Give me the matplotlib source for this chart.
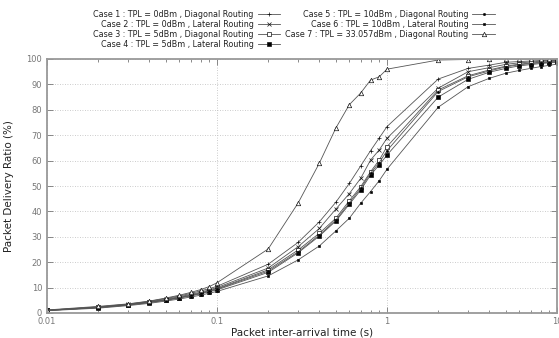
import matplotlib
matplotlib.use("Agg")
import matplotlib.pyplot as plt
from matplotlib.ticker import FixedLocator, NullFormatter, FixedFormatter

x = [0.01, 0.02, 0.03, 0.04, 0.05, 0.06, 0.07, 0.08, 0.09, 0.1,
     0.2, 0.3, 0.4, 0.5, 0.6, 0.7, 0.8, 0.9, 1,
     2, 3, 4, 5, 6, 7, 8, 9, 10]

case1 = [1.1, 2.4, 3.5, 4.6, 5.7, 6.7, 7.7, 8.7, 9.6, 10.5,
         19.2, 27.8, 35.9, 43.6, 51.0, 57.9, 63.9, 68.9, 73.4,
         92.1, 96.3, 97.6, 98.7, 99.0, 99.2, 99.4, 99.5, 99.6]
case2 = [1.1, 2.3, 3.4, 4.4, 5.4, 6.4, 7.3, 8.2, 9.1, 10.0,
         17.7, 26.1, 33.3, 40.9, 47.0, 53.0, 60.2, 64.2, 68.8,
         88.5, 95.0, 96.6, 97.9, 98.5, 98.8, 99.1, 99.3, 99.4]
case3 = [1.0, 2.2, 3.3, 4.3, 5.2, 6.1, 7.0, 7.9, 8.8, 9.6,
         17.0, 24.8, 31.4, 37.3, 44.2, 49.7, 55.6, 60.2, 65.5,
         87.8, 93.4, 95.7, 97.2, 98.0, 98.4, 98.7, 99.0, 99.2]
case4 = [1.0, 2.1, 3.1, 4.1, 5.0, 5.9, 6.7, 7.5, 8.4, 9.1,
         16.0, 23.7, 30.3, 36.2, 42.8, 48.4, 54.3, 58.3, 62.2,
         85.0, 92.0, 94.8, 96.3, 97.3, 97.8, 98.2, 98.5, 98.7]
case5 = [1.0, 2.2, 3.2, 4.2, 5.1, 6.0, 6.9, 7.7, 8.6, 9.4,
         16.5, 24.1, 30.7, 36.6, 43.4, 49.1, 55.0, 59.2, 63.9,
         87.2, 93.0, 95.3, 96.9, 97.7, 98.2, 98.5, 98.7, 99.0]
case6 = [0.9, 1.9, 2.9, 3.8, 4.7, 5.5, 6.3, 7.0, 7.8, 8.5,
         14.6, 20.9, 26.4, 32.3, 37.3, 43.2, 47.8, 52.1, 56.6,
         81.0, 89.1, 92.4, 94.4, 95.5, 96.3, 97.0, 97.5, 98.0]
case7 = [1.2, 2.6, 3.6, 4.7, 5.9, 7.0, 8.1, 9.2, 10.4, 11.9,
         25.2, 43.3, 59.0, 72.8, 82.0, 86.6, 91.7, 93.0, 96.0,
         99.6, 99.8, 99.9, 100, 100, 100, 100, 100, 100]

labels = [
    "Case 1 : TPL = 0dBm , Diagonal Routing",
    "Case 2 : TPL = 0dBm , Lateral Routing",
    "Case 3 : TPL = 5dBm , Diagonal Routing",
    "Case 4 : TPL = 5dBm , Lateral Routing",
    "Case 5 : TPL = 10dBm , Diagonal Routing",
    "Case 6 : TPL = 10dBm , Lateral Routing",
    "Case 7 : TPL = 33.057dBm , Diagonal Routing",
]
series = [case1, case2, case3, case4, case5, case6, case7]
styles = [
    dict(marker="+", ms=2.8, mfc="black"),
    dict(marker="x", ms=2.2, mfc="black"),
    dict(marker="s", ms=2.8, mfc="white"),
    dict(marker="s", ms=2.8, mfc="black"),
    dict(marker="o", ms=1.6, mfc="black"),
    dict(marker="s", ms=1.8, mfc="black"),
    dict(marker="^", ms=3.2, mfc="white"),
]

x_ticks = [0.01, 0.1, 1, 10]
x_ticklabels = ["0.01", "0.1", "1", "10"]
y_ticks = list(range(0, 101, 10))

fig = plt.figure(figsize=(5.59, 3.38), dpi=100)
ax = fig.add_axes([47 / 559, 1 - 313 / 338, 510 / 559, 254 / 338])

for ys, lab, st in zip(series, labels, styles):
    ax.plot(x, ys, color="#555555", lw=0.6, mec="#111111", mew=0.5,
            label=lab, **st)

ax.set_xscale("log")
ax.set_xlim(0.01, 10)
ax.set_ylim(0, 100)
ax.xaxis.set_major_locator(FixedLocator(x_ticks))
ax.xaxis.set_major_formatter(FixedFormatter(x_ticklabels))
minors = [m * d for d in (0.01, 0.1, 1) for m in range(2, 10)]
ax.xaxis.set_minor_locator(FixedLocator(minors))
ax.xaxis.set_minor_formatter(NullFormatter())
ax.set_yticks(y_ticks)

ax.grid(True, which="major", color="#bbbbbb", linestyle=(0, (1, 2)), lw=0.6)
for s in ax.spines.values():
    s.set_color("#999999")
    s.set_linewidth(1.3)
ax.tick_params(which="both", direction="in", top=True, right=True,
               colors="#777777", labelcolor="#777777", labelsize=6)
ax.tick_params(axis="x", pad=3)
ax.tick_params(which="major", length=4, width=0.6)
ax.tick_params(which="minor", length=2.5, width=0.6)

ax.set_xlabel("Packet inter-arrival time (s)", fontsize=7.5, color="#222222",
              labelpad=1)
ax.set_ylabel("Packet Delivery Ratio (%)", fontsize=7.5, color="#222222",
              labelpad=9)

leg = ax.legend(loc="upper center", bbox_to_anchor=(294 / 559, 1 - 10 / 338),
                bbox_transform=fig.transFigure, ncol=2, frameon=False,
                markerfirst=False, fontsize=5.8, handlelength=2.8,
                handletextpad=0.5, labelspacing=0.12, columnspacing=0.6,
                borderpad=0, borderaxespad=0)
for t in leg.get_texts():
    t.set_color("#222222")

fig.savefig("out.png", dpi=100)
